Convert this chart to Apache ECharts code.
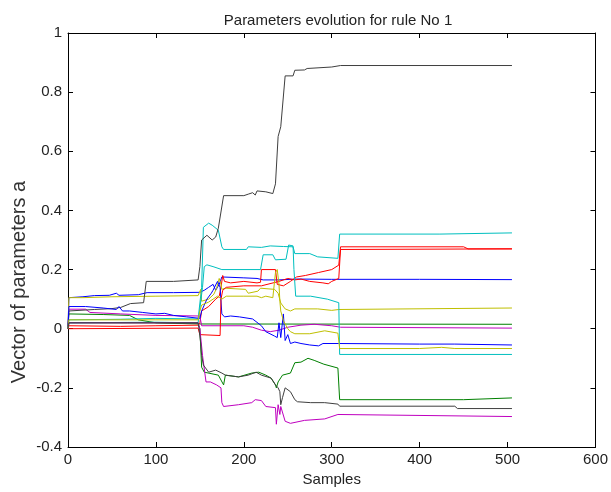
<!DOCTYPE html>
<html><head><meta charset="utf-8">
<script src="https://cdn.jsdelivr.net/npm/echarts@6/dist/echarts.min.js"></script>
<style>html,body{margin:0;padding:0;background:#fff}#c{width:611px;height:492px}</style>
</head><body><div id="c"></div>
<script>
const titleText = "Parameters evolution for rule No 1";
const xName = "Samples";
const yName = "Vector of parameters a";
const xTicks = [0,100,200,300,400,500,600];
const yTicks = [-0.4,-0.2,0,0.2,0.4,0.6,0.8,1];

const blue1 = [[0,0],[1,0.105],[17,0.108],[30,0.112],[47,0.113],[55,0.12],[58,0.113],[80,0.115],[90,0.122],[120,0.122],[150,0.123],[155,0.13],[160,0.14],[165,0.15],[168,0.13],[172,0.15],[175,0.175],[200,0.172],[215,0.17],[222,0.165],[240,0.165],[260,0.168],[300,0.167],[400,0.167],[505,0.166]];
const green1 = [[0,0],[1,0.05],[40,0.048],[70,0.045],[80,0.03],[100,0.02],[150,0.016],[505,0.015]];
const red1 = [[0,0],[1,0.01],[60,0.008],[100,0.01],[148,0.012],[150,0.02],[152,0.06],[160,0.075],[168,0.1],[172,0.11],[174,0.14],[176,0.18],[178,0.16],[185,0.155],[200,0.16],[215,0.155],[219,0.157],[220,0.2],[236,0.2],[238,0.15],[245,0.145],[253,0.16],[260,0.175],[270,0.18],[285,0.19],[300,0.2],[308,0.215],[310,0.277],[450,0.277],[455,0.27],[505,0.27]];
const cyan1 = [[0,0],[1,0.03],[60,0.032],[100,0.035],[148,0.033],[150,0.03],[152,0.14],[154,0.343],[160,0.357],[164,0.35],[171,0.333],[175,0.277],[177,0.268],[203,0.268],[205,0.277],[220,0.275],[230,0.28],[245,0.278],[256,0.277],[258,0.254],[275,0.254],[284,0.243],[307,0.238],[309,0.32],[423,0.32],[425,0.324],[505,0.324]];
const magenta1 = [[0,0],[1,0.066],[20,0.066],[25,0.055],[60,0.05],[100,0.045],[150,0.043],[152,0.01],[200,0.01],[210,0.005],[220,-0.005],[230,-0.01],[240,-0.005],[250,0.005],[265,0.012],[280,0.015],[300,0.01],[310,0.005],[505,0.002]];
const yellow1 = [[0,0],[1,0.105],[17,0.105],[50,0.108],[100,0.11],[148,0.112],[151,0.133],[152,0.093],[160,0.1],[166,0.117],[169,0.137],[172,0.17],[174,0.15],[175,0.133],[179,0.137],[202,0.133],[205,0.12],[216,0.127],[219,0.137],[235,0.133],[239,0.12],[242,0.087],[247,0.067],[253,0.06],[258,0.067],[284,0.067],[300,0.062],[308,0.065],[310,0.07],[505,0.07]];
const black1 = [[0,0],[1,0.06],[30,0.065],[50,0.068],[60,0.072],[71,0.085],[86,0.088],[89,0.16],[120,0.16],[148,0.165],[150,0.21],[152,0.30],[158,0.316],[164,0.30],[168,0.31],[171,0.34],[177,0.45],[200,0.45],[205,0.455],[210,0.46],[213,0.452],[215,0.466],[225,0.463],[233,0.457],[236,0.49],[239,0.65],[242,0.683],[247,0.855],[256,0.855],[258,0.874],[269,0.875],[272,0.88],[300,0.885],[310,0.89],[505,0.89]];
const blue2 = [[0,0],[1,0.075],[20,0.075],[40,0.07],[55,0.065],[58,0.075],[62,0.06],[70,0.06],[85,0.055],[100,0.05],[110,0.052],[120,0.045],[135,0.04],[150,0.035],[152,0.06],[158,0.1],[163,0.12],[165,0.13],[170,0.16],[173,0.14],[175,0.05],[178,0.04],[185,0.043],[195,0.04],[210,0.033],[220,0.01],[225,-0.01],[235,-0.025],[238,-0.03],[240,0.02],[242,-0.03],[245,0.05],[247,-0.04],[250,-0.02],[253,-0.05],[258,-0.045],[265,-0.05],[275,-0.055],[285,-0.058],[290,-0.05],[308,-0.05],[400,-0.052],[440,-0.052],[442,-0.055],[505,-0.055]];
const green2 = [[0,0],[1,0.02],[100,0.02],[148,0.018],[150,0],[152,-0.13],[155,-0.147],[171,-0.157],[177,-0.19],[179,-0.157],[194,-0.163],[209,-0.15],[217,-0.147],[225,-0.157],[231,-0.167],[236,-0.19],[237,-0.2],[239,-0.18],[244,-0.157],[253,-0.15],[258,-0.115],[265,-0.113],[273,-0.1],[280,-0.107],[291,-0.12],[307,-0.133],[309,-0.24],[450,-0.24],[452,-0.234],[505,-0.234]];
const red2 = [[0,0],[1,0.005],[148,0.002],[150,-0.02],[152,-0.025],[173,-0.023],[174,0.1],[176,0.13],[180,0.14],[200,0.145],[220,0.145],[240,0.16],[250,0.17],[258,0.165],[265,0.168],[275,0.16],[290,0.155],[296,0.152],[300,0.16],[308,0.17],[310,0.268],[505,0.27]];
const cyan2 = [[0,0],[1,0.02],[100,0.022],[148,0.02],[150,0.02],[153,0.14],[155,0.21],[158,0.216],[165,0.21],[175,0.2],[219,0.2],[222,0.25],[233,0.25],[236,0.233],[248,0.235],[251,0.283],[256,0.28],[257,0.2],[259,0.11],[276,0.11],[295,0.1],[308,0.088],[309,-0.087],[505,-0.087]];
const magenta2 = [[0,0],[1,0.02],[148,0.02],[150,0],[153,-0.09],[157,-0.18],[162,-0.18],[169,-0.19],[174,-0.2],[175,-0.25],[177,-0.263],[194,-0.257],[209,-0.25],[213,-0.24],[220,-0.243],[225,-0.263],[236,-0.267],[237,-0.323],[239,-0.257],[241,-0.29],[242,-0.263],[247,-0.313],[253,-0.32],[269,-0.31],[292,-0.305],[307,-0.29],[309,-0.295],[505,-0.297]];
const yellow2 = [[0,0],[1,0.03],[100,0.03],[148,0.03],[150,0.06],[152,0.08],[160,0.09],[165,0.1],[170,0.11],[175,0.1],[180,0.11],[200,0.11],[215,0.11],[220,0.105],[225,0.11],[233,0.105],[236,0.19],[238,0.2],[240,0.15],[241,0.093],[242,0.06],[245,0.027],[250,0.0],[253,-0.01],[258,-0.017],[275,-0.017],[292,-0.007],[307,-0.015],[309,-0.067],[400,-0.067],[425,-0.063],[440,-0.067],[505,-0.067]];
const black2 = [[0,0],[1,0.02],[148,0.02],[149,0],[151,-0.05],[152,-0.09],[154,-0.123],[160,-0.147],[168,-0.14],[175,-0.15],[179,-0.157],[194,-0.163],[205,-0.157],[214,-0.147],[220,-0.157],[231,-0.167],[236,-0.19],[239,-0.2],[241,-0.213],[242,-0.257],[244,-0.233],[247,-0.2],[253,-0.213],[258,-0.24],[261,-0.247],[276,-0.25],[292,-0.25],[307,-0.255],[309,-0.262],[440,-0.262],[443,-0.27],[505,-0.27]];

const seriesList = [blue1, green1, red1, cyan1, magenta1, yellow1, black1, blue2, green2, red2, cyan2, magenta2, yellow2, black2];
const colorList = ['#0000ff','#008000','#ff0000','#00bfbf','#bf00bf','#bfbf00','#3f3f3f'];

const FONT = 'Liberation Sans, Arial, Helvetica, sans-serif';
const chart = echarts.init(document.getElementById('c'), null, {renderer:'canvas'});
const axisCommon = {
  type:'value',
  axisLine:{show:true, onZero:false, lineStyle:{color:'#000', width:1}},
  axisTick:{show:true, inside:true, length:5, lineStyle:{color:'#000'}},
  splitLine:{show:false}
};
chart.setOption({
  animation:false,
  backgroundColor:'#fff',
  title:{text:titleText, left:333, top:8, textAlign:'center',
    textStyle:{fontFamily:FONT, fontSize:15, fontWeight:'normal', color:'#222'}},
  grid:{left:68, right:11, top:33, bottom:39, containLabel:false},
  xAxis:[
    Object.assign({}, axisCommon, {position:'bottom', min:xTicks[0], max:xTicks[xTicks.length-1], interval:100,
      name:xName, nameLocation:'middle', nameGap:25,
      nameTextStyle:{fontFamily:FONT, fontSize:15, color:'#222'},
      axisLabel:{margin:5, fontFamily:FONT, fontSize:15, color:'#222'}}),
    Object.assign({}, axisCommon, {position:'top', min:xTicks[0], max:xTicks[xTicks.length-1], interval:100,
      axisLabel:{show:false}})
  ],
  yAxis:[
    Object.assign({}, axisCommon, {position:'left', min:yTicks[0], max:yTicks[yTicks.length-1], interval:0.2,
      axisLabel:{margin:6, fontFamily:FONT, fontSize:15, color:'#222',
        formatter:v=>String(Math.round(v*10)/10)}}),
    Object.assign({}, axisCommon, {position:'right', min:yTicks[0], max:yTicks[yTicks.length-1], interval:0.2,
      axisLabel:{show:false}})
  ],
  graphic:[{type:'text', x:19, y:282, rotation:Math.PI/2,
    style:{text:yName, font:'20px ' + FONT, fill:'#333', textAlign:'center', textVerticalAlign:'middle'}}],
  series: seriesList.map((d,i)=>({
    type:'line', data:d, xAxisIndex:0, yAxisIndex:0, showSymbol:false, symbol:'none',
    lineStyle:{width:1, color:colorList[i%7]}, itemStyle:{color:colorList[i%7]}, z:2
  }))
});
</script></body></html>
